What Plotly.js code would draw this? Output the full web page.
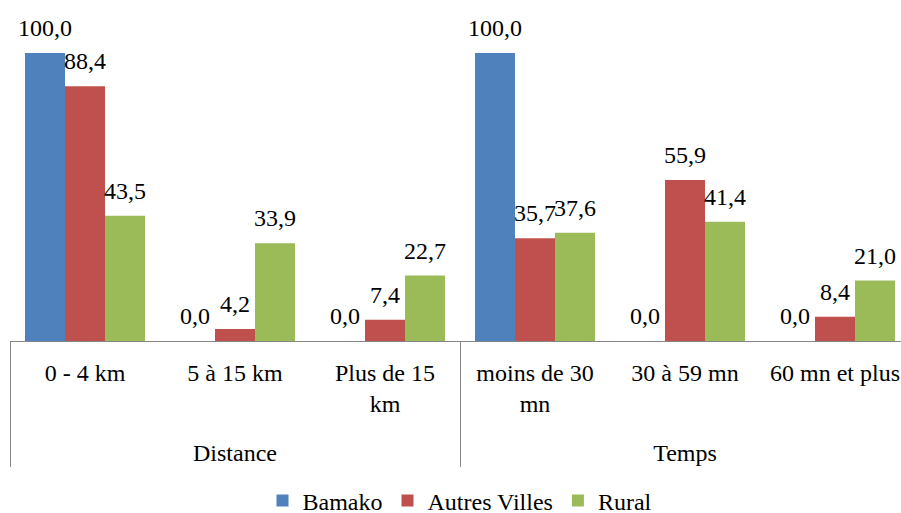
<!DOCTYPE html>
<html>
<head>
<meta charset="utf-8">
<script src="https://cdn.plot.ly/plotly-3.0.1.min.js"></script>
<style>
html, body { margin: 0; padding: 0; overflow: hidden; background: #fff; }
#chart { width: 911px; height: 513px; }
html body #chart svg text, html body svg text { font-family: 'Liberation Serif', 'Times New Roman', serif !important; }
</style>
</head>
<body>
<div id="chart"></div>
<script>
const groups = ['Distance', 'Distance', 'Distance', 'Temps', 'Temps', 'Temps'];
const categories = ['0 - 4 km', '5 à 15 km', 'Plus de 15<br>km<br>\u00a0', 'moins de 30<br>mn', '30 à 59 mn', '60 mn et plus'];
const seriesNames = ['Bamako', 'Autres Villes', 'Rural'];
const bamako = [100.0, 0.0, 0.0, 100.0, 0.0, 0.0];
const autresVilles = [88.4, 4.2, 7.4, 35.7, 55.9, 8.4];
const rural = [43.5, 33.9, 22.7, 37.6, 41.4, 21.0];

const colors = ['#4F81BD', '#C0504D', '#9BBB59'];
const FS = 24;
const FONT = 'Liberation Serif';
const seriesValues = [bamako, autresVilles, rural];

const traces = [];
seriesValues.forEach((vals, i) => {
  traces.push({
    type: 'bar',
    name: seriesNames[i],
    x: [groups, categories],
    y: vals,
    marker: { color: colors[i] },
    hoverinfo: 'skip'
  });
});
seriesValues.forEach((vals, i) => {
  traces.push({
    type: 'scatter',
    mode: 'markers+text',
    showlegend: false,
    x: [groups, categories],
    y: vals,
    text: vals.map(v => v.toFixed(1).replace('.', ',')),
    textposition: 'top center',
    textfont: { family: FONT, size: FS, color: '#000' },
    marker: { size: 16, color: 'rgba(0,0,0,0)', line: { width: 0 } },
    cliponaxis: false,
    hoverinfo: 'skip'
  });
});

const layout = {
  width: 911,
  height: 513,
  margin: { l: 10, r: 1, t: 10, b: 172, autoexpand: false },
  paper_bgcolor: '#fff',
  plot_bgcolor: '#fff',
  barmode: 'group',
  bargap: 0.2,
  bargroupgap: 0,
  scattermode: 'group',
  scattergap: 0.2,
  separators: ',.',
  font: { family: FONT, size: FS, color: '#000' },
  xaxis: {
    type: 'multicategory',
    showline: true,
    linecolor: '#868686',
    linewidth: 1,
    ticks: '',
    ticklabelstandoff: 10,
    showdividers: true,
    dividercolor: '#868686',
    dividerwidth: 1,
    tickfont: { family: FONT, size: FS, color: '#000' },
    showgrid: false,
    zeroline: false
  },
  yaxis: {
    range: [0, 114.9],
    visible: false,
    showgrid: false,
    zeroline: false
  },
  showlegend: true,
  legend: {
    orientation: 'h',
    x: 0.5,
    xanchor: 'center',
    y: -0.415,
    yanchor: 'top',
    font: { family: FONT, size: FS, color: '#000' },
    traceorder: 'normal'
  }
};

Plotly.newPlot('chart', traces, layout, { displayModeBar: false, staticPlot: true }).then(function (gd) {
  gd.querySelectorAll('text').forEach(function (t) {
    t.style.setProperty('font-family', "'Liberation Serif', 'Times New Roman', serif", 'important');
  });
});
</script>
</body>
</html>
